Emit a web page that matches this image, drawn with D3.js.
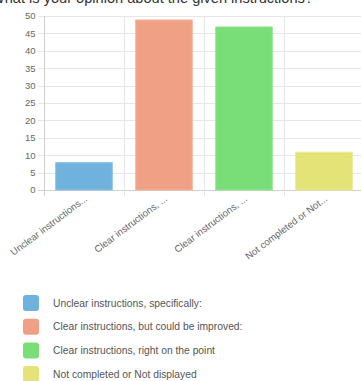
<!DOCTYPE html>
<html>
<head>
<meta charset="utf-8">
<script src="https://cdn.jsdelivr.net/npm/d3@7"></script>
<style>
  html, body { margin: 0; padding: 0; background: #fff; overflow: hidden; }
  svg { display: block; font-family: "Liberation Sans", Arial, Helvetica, sans-serif; }
</style>
</head>
<body>
<svg id="chart" width="361" height="381"></svg>
<script>
// Survey answers
const title = "What is your opinion about the given instructions?";
const categories = [
  "Unclear instructions, specifically:",
  "Clear instructions, but could be improved:",
  "Clear instructions, right on the point",
  "Not completed or Not displayed"
];
const shortLabels = [
  "Unclear instructions...",
  "Clear instructions, ...",
  "Clear instructions, ...",
  "Not completed or Not..."
];
const counts = [8, 49, 47, 11];
const yTicks = [0, 5, 10, 15, 20, 25, 30, 35, 40, 45, 50];
const fills = ["#70b2de", "#f0a185", "#79de78", "#e3e377"];
const strokes = ["#8cc2e8", "#f4b49c", "#93e693", "#eaea93"];

const svg = d3.select("#chart");
const plot = { left: 44, right: 364, top: 16, bottom: 190 };

const x = d3.scaleBand()
  .domain(d3.range(categories.length))
  .range([plot.left, plot.right])
  .paddingInner(0.28)
  .paddingOuter(0.14);

const y = d3.scaleLinear().domain([0, 50]).range([plot.bottom, plot.top]);

// title (scrolled partly above the top edge)
svg.append("text")
  .attr("x", 313).attr("y", 2.5)
  .attr("text-anchor", "end")
  .attr("font-size", 14.6)
  .attr("fill", "#333")
  .text(title);

// horizontal grid
svg.append("g").selectAll("line").data(yTicks).join("line")
  .attr("x1", plot.left - 6).attr("x2", 361)
  .attr("y1", d => Math.round(y(d)) + 0.5).attr("y2", d => Math.round(y(d)) + 0.5)
  .attr("stroke", d => d === 0 ? "#cfcfcf" : "#e6e6e6")
  .attr("stroke-width", 1);

// vertical grid at category boundaries
const gap = (x.step() - x.bandwidth()) / 2;
const bounds = d3.range(categories.length + 1).map(i =>
  i < categories.length ? x(i) - gap : x(i - 1) + x.bandwidth() + gap);
svg.append("g").selectAll("line").data(bounds).join("line")
  .attr("x1", d => Math.round(d) + 0.5).attr("x2", d => Math.round(d) + 0.5)
  .attr("y1", plot.top).attr("y2", plot.bottom + 6)
  .attr("stroke", (d, i) => i === 0 ? "#cfcfcf" : "#e6e6e6");

// y tick labels
svg.append("g").selectAll("text").data(yTicks).join("text")
  .attr("x", plot.left - 8.5)
  .attr("y", d => y(d))
  .attr("dy", "0.35em")
  .attr("text-anchor", "end")
  .attr("font-size", 9.5)
  .attr("fill", "#666")
  .text(d => d);

// bars
svg.append("g").selectAll("rect").data(counts).join("rect")
  .attr("x", (d, i) => x(i) + 0.5)
  .attr("y", d => y(d) + 0.5)
  .attr("width", x.bandwidth() - 1)
  .attr("height", d => y(0) - y(d) - 0.5)
  .attr("fill", (d, i) => fills[i])
  .attr("stroke", (d, i) => strokes[i])
  .attr("stroke-width", 1);

// rotated category labels
svg.append("g").selectAll("text").data(shortLabels).join("text")
  .attr("transform", (d, i) => `translate(${x(i) + x.bandwidth() / 2 + 4},${plot.bottom + 10}) rotate(-37)`)
  .attr("text-anchor", "end")
  .attr("font-size", 9.7)
  .attr("fill", "#666")
  .text(d => d);

// legend
const legend = svg.append("g").selectAll("g").data(categories).join("g")
  .attr("transform", (d, i) => `translate(23,${303 + i * 23.7})`);
legend.append("rect")
  .attr("x", 0).attr("y", -8)
  .attr("width", 16).attr("height", 16)
  .attr("rx", 3)
  .attr("fill", (d, i) => fills[i]);
legend.append("text")
  .attr("x", 30).attr("y", 0)
  .attr("dy", "0.35em")
  .attr("font-size", 10.3)
  .attr("fill", "#555")
  .text(d => d);
</script>
</body>
</html>
